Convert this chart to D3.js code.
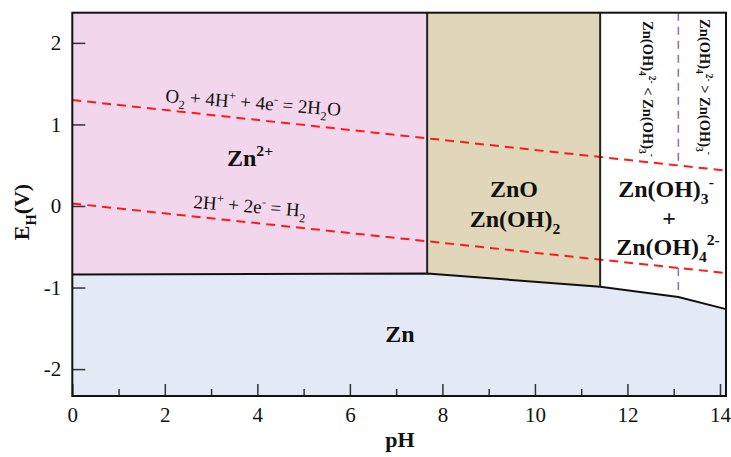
<!DOCTYPE html>
<html><head><meta charset="utf-8">
<script src="https://cdn.jsdelivr.net/npm/d3@7"></script>
<style>body{margin:0;background:#fff}svg{display:block}
svg text{font-family:"Liberation Serif","DejaVu Serif",serif;}</style>
</head><body>
<svg id="c" width="731" height="457"></svg>
<script>
// ---- data ----
const xDomain = [0, 14.13];
const yDomain = [-2.33, 2.37];
const xMajorTicks = [0, 2, 4, 6, 8, 10, 12, 14];
const xMinorTicks = [1, 3, 5, 7, 9, 11, 13];
const yTicks = [-2, -1, 0, 1, 2];
// Zn / dissolved-species boundary (pH, E)
const znLinePH = [0, 7.67, 11.41, 13.1, 14.13];
const znLineE  = [-0.84, -0.827, -0.99, -1.117, -1.265];
// vertical phase boundaries (pH) with their lower E
const phaseBoundPH = [7.67, 11.41];
const phaseBoundE  = [-0.827, -0.99];
// water stability lines (pH, E endpoints)
const o2Line = [[0, 1.30], [14.13, 0.434]];
const h2Line = [[0, 0.03], [14.13, -0.822]];
// Zn(OH)3- / Zn(OH)4 2- divider
const dividerPH = 13.1;
const dividerUpper = [2.37, 0.497];
const dividerLower = [-0.76, -1.117];

(function () {
const serif = '"Liberation Serif","DejaVu Serif",serif';
const svg = d3.select('#c');
const L = 72.3, T = 12.7, R = 726, B = 396;
const x = d3.scaleLinear().domain(xDomain).range([L, R]);
const y = d3.scaleLinear().domain(yDomain).range([B, T]);
const yTop = yDomain[1], yBot = yDomain[0], xr = xDomain[1];
const line = d3.line().x(d => x(d[0])).y(d => y(d[1]));
const zn = znLinePH.map((p, i) => [p, znLineE[i]]);

// regions
const regions = [
  {pts: [[0, yTop], [phaseBoundPH[0], yTop], zn[1], zn[0]], fill: '#f2d6eb'},
  {pts: [[phaseBoundPH[0], yTop], [phaseBoundPH[1], yTop], zn[2], zn[1]], fill: '#e0d6b9'},
  {pts: [[phaseBoundPH[1], yTop], [xr, yTop], zn[4], zn[3], zn[2]], fill: '#ffffff'},
  {pts: zn.concat([[xr, yBot], [0, yBot]]), fill: '#e3eaf5'}
];
svg.selectAll('path.reg').data(regions).join('path').attr('class', 'reg')
  .attr('d', d => line(d.pts) + 'Z').attr('fill', d => d.fill);

// water lines
svg.selectAll('path.w').data([o2Line, h2Line]).join('path').attr('class', 'w')
  .attr('d', line).attr('fill', 'none').attr('stroke', '#ff1a1a')
  .attr('stroke-width', 2).attr('stroke-dasharray', '9,6');

// divider
[dividerUpper, dividerLower].forEach(seg => {
  svg.append('path').attr('d', line(seg.map(e => [dividerPH, e])))
    .attr('fill', 'none').attr('stroke', '#8b72c4').attr('stroke-width', 1.6)
    .attr('stroke-dasharray', '8,6');
});

// boundaries
svg.append('path').attr('d', line(zn)).attr('fill', 'none').attr('stroke', '#111').attr('stroke-width', 2);
phaseBoundPH.forEach((p, i) => {
  svg.append('path').attr('d', line([[p, yTop], [p, phaseBoundE[i]]]))
    .attr('fill', 'none').attr('stroke', '#222').attr('stroke-width', 2);
});

// axes
const fmt = d => String(d);
const gx = svg.append('g').attr('transform', `translate(0,${B})`)
  .call(d3.axisBottom(x).tickValues(xMajorTicks).tickFormat(fmt).tickSizeInner(-12).tickSizeOuter(0).tickPadding(10));
svg.append('g').attr('transform', `translate(0,${B})`)
  .call(d3.axisBottom(x).tickValues(xMinorTicks).tickSizeInner(-7).tickSizeOuter(0).tickFormat(''));
const gy = svg.append('g').attr('transform', `translate(${L},0)`)
  .call(d3.axisLeft(y).tickValues(yTicks).tickFormat(fmt).tickSizeInner(-13).tickSizeOuter(0).tickPadding(11));
svg.selectAll('g').attr('font-family', null);
svg.selectAll('.domain').remove();
svg.selectAll('.tick line').attr('stroke', '#333').attr('stroke-width', 1.5);
svg.selectAll('.tick text').style('font-family', serif).attr('font-size', 21).attr('fill', '#111');
gx.selectAll('.tick text').attr('dy', '0.78em');

// frame
svg.append('rect').attr('x', L).attr('y', T).attr('width', R - L).attr('height', B - T)
  .attr('fill', 'none').attr('stroke', '#111').attr('stroke-width', 2);

// rich text helper
function rich(parent, parts, fs, attrs) {
  const t = parent.append('text').style('font-family', serif).attr('font-size', fs).attr('fill', '#111');
  Object.entries(attrs || {}).forEach(([k, v]) => t.attr(k, v));
  let off = 0;
  parts.forEach(p => {
    const [txt, kind] = Array.isArray(p) ? p : [p, null];
    const target = kind === 'sub' ? 0.3 * fs : kind === 'sup' ? -0.4 * fs : 0;
    const ts = t.append('tspan').text(txt).attr('dy', target - off);
    if (kind) ts.attr('font-size', fs * 0.65);
    off = target;
  });
  return t;
}

// region labels
rich(svg, ['Zn', ['2+', 'sup']], 24, {x: 227, y: 166, 'font-weight': 'bold'});
rich(svg, ['ZnO'], 24, {x: 514, y: 197, 'font-weight': 'bold', 'text-anchor': 'middle'});
rich(svg, ['Zn(OH)', ['2', 'sub']], 24, {x: 515, y: 227, 'font-weight': 'bold', 'text-anchor': 'middle'});
rich(svg, ['Zn(OH)', ['3', 'sub'], ['-', 'sup']], 24, {x: 666, y: 197, 'font-weight': 'bold', 'text-anchor': 'middle'});
rich(svg, ['+'], 24, {x: 669, y: 226, 'font-weight': 'bold', 'text-anchor': 'middle'});
rich(svg, ['Zn(OH)', ['4', 'sub'], ['2-', 'sup']], 24, {x: 668, y: 255, 'font-weight': 'bold', 'text-anchor': 'middle'});
rich(svg, ['Zn'], 24, {x: 400, y: 342, 'font-weight': 'bold', 'text-anchor': 'middle'});

// equations
rich(svg, ['O', ['2', 'sub'], ' + 4H', ['+', 'sup'], ' + 4e', ['-', 'sup'], ' = 2H', ['2', 'sub'], 'O'], 19,
  {transform: 'translate(165,102) rotate(4.5)'});
rich(svg, ['2H', ['+', 'sup'], ' + 2e', ['-', 'sup'], ' = H', ['2', 'sub']], 19,
  {transform: 'translate(193,208) rotate(4.5)'});

// rotated labels
rich(svg, ['Zn(OH)', ['4', 'sub'], ['2-', 'sup'], ' < Zn(OH)', ['3', 'sub'], ['-', 'sup']], 14.5,
  {transform: 'translate(643,89) rotate(90)', 'text-anchor': 'middle', 'font-weight': 'bold'});
rich(svg, ['Zn(OH)', ['4', 'sub'], ['2-', 'sup'], ' > Zn(OH)', ['3', 'sub'], ['-', 'sup']], 14.5,
  {transform: 'translate(700,87) rotate(90)', 'text-anchor': 'middle', 'font-weight': 'bold'});

// axis titles
rich(svg, ['E', ['H', 'sub'], '(V)'], 22, {transform: 'translate(29,212) rotate(-90)', 'text-anchor': 'middle', 'font-weight': 'bold'});
rich(svg, ['pH'], 22, {x: 400, y: 447, 'text-anchor': 'middle', 'font-weight': 'bold'});
})();
</script>
</body></html>
